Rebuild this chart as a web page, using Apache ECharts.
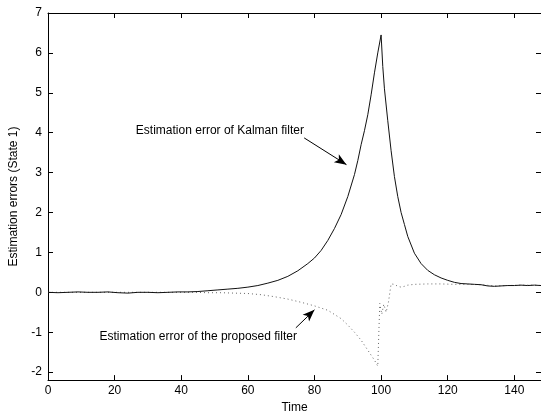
<!DOCTYPE html>
<html>
<head>
<meta charset="utf-8">
<script src="https://cdn.jsdelivr.net/npm/echarts@6/dist/echarts.min.js"></script>
<style>
  html, body { margin: 0; padding: 0; background: #fff; }
  #chart { width: 541px; height: 419px; }
</style>
</head>
<body>
<div id="chart"></div>
<script>
// tick labels
const xTicks = [0, 20, 40, 60, 80, 100, 120, 140];
const yTicks = [-2, -1, 0, 1, 2, 3, 4, 5, 6, 7];

// Kalman filter error (solid)
const kalmanT = [0, 3, 6, 9, 12, 15, 18, 21, 24, 27, 30, 33, 36, 39, 42, 45, 48, 51, 54, 57,
  60, 63, 66, 69, 72, 75, 78, 80, 82, 84, 86, 88, 90, 92, 93, 94, 95, 96, 97, 98, 99, 100,
  100.5, 101, 102, 103, 104, 105, 106, 107, 108, 110, 112, 114, 116, 118, 120, 122, 124,
  126, 128, 130, 132, 134, 136, 138, 140, 142, 144, 146, 148];
const kalmanV = [0, -0.01, 0, 0.01, 0, 0, 0.01, -0.01, -0.02, 0, 0, -0.01, 0, 0.01, 0.01, 0.02, 0.04, 0.06, 0.08, 0.1,
  0.13, 0.17, 0.23, 0.3, 0.4, 0.54, 0.72, 0.86, 1.05, 1.3, 1.6, 1.95, 2.4, 2.95, 3.3, 3.7, 4.05, 4.45, 4.95, 5.5, 6.0, 6.45,
  5.66, 5.1, 4.3, 3.55, 2.9, 2.4, 2.0, 1.7, 1.4, 0.98, 0.72, 0.55, 0.44, 0.36, 0.3, 0.25, 0.22,
  0.21, 0.2, 0.19, 0.16, 0.15, 0.16, 0.17, 0.17, 0.18, 0.17, 0.18, 0.17];

// proposed filter error (dotted)
const proposedT = [0, 5, 10, 15, 20, 25, 30, 35, 40, 44, 48, 52, 56, 60, 64, 68, 72, 76, 80, 84,
  88, 90, 92, 94, 96, 98, 99, 99.6, 100.2, 100.8, 101.5, 102.2, 103, 104, 105, 106, 107, 108,
  110, 114, 118, 122, 126, 130, 134, 138, 142, 146, 148];
const proposedV = [0, 0, 0, 0, 0, 0, 0, 0, 0, 0, -0.01, -0.01, -0.02, -0.03, -0.06, -0.11, -0.17, -0.25, -0.34, -0.45,
  -0.66, -0.82, -1.0, -1.2, -1.45, -1.7, -1.85, -0.28, -0.55, -0.3, -0.5, -0.25, 0.21, 0.2, 0.15, 0.13, 0.15, 0.18,
  0.2, 0.21, 0.21, 0.2, 0.2, 0.19, 0.16, 0.17, 0.18, 0.18, 0.17];

// annotation texts and arrows (data coordinates)
const kalmanNote = { text: 'Estimation error of Kalman filter', at: [51.6, 4.04], from: [76.9, 3.87], to: [89.6, 3.2] };
const proposedNote = { text: 'Estimation error of the proposed filter', at: [45.1, -1.11], from: [74.4, -0.89], to: [80.0, -0.44] };

const font = 'Liberation Sans, Arial, sans-serif';
const kalmanData = kalmanT.map((t, i) => [t, kalmanV[i]]);
const proposedData = proposedT.map((t, i) => [t, proposedV[i]]);

function noteMark(note) {
  return {
    coord: note.at,
    symbolSize: 0,
    label: { show: true, position: 'inside', formatter: note.text, color: '#000', fontSize: 12, fontFamily: font }
  };
}
function arrowMark(note) {
  return [{ coord: note.from }, { coord: note.to }];
}

const chart = echarts.init(document.getElementById('chart'), null, { renderer: 'canvas' });
const axisLine = { show: true, onZero: false, lineStyle: { color: '#000', width: 1 } };
const tickStyle = { show: true, inside: true, length: 5, lineStyle: { color: '#000' } };

chart.setOption({
  animation: false,
  backgroundColor: '#fff',
  grid: { left: 43, top: 13, right: 0, bottom: 32, containLabel: false },
  xAxis: [
    {
      type: 'value', min: 0, max: 148, position: 'bottom',
      name: 'Time', nameLocation: 'middle', nameGap: 17,
      nameTextStyle: { color: '#000', fontSize: 12, fontFamily: font },
      axisLine: axisLine,
      axisTick: Object.assign({ customValues: xTicks }, tickStyle),
      axisLabel: { customValues: xTicks, color: '#000', fontSize: 12, fontFamily: font, margin: 5 },
      splitLine: { show: false }
    },
    {
      type: 'value', min: 0, max: 148, position: 'top',
      axisLine: axisLine,
      axisTick: Object.assign({ customValues: xTicks }, tickStyle),
      axisLabel: { show: false },
      splitLine: { show: false }
    }
  ],
  yAxis: [
    {
      type: 'value', min: -2.2, max: 7, position: 'left',
      name: 'Estimation errors (State 1)', nameLocation: 'middle', nameGap: 28,
      nameTextStyle: { color: '#000', fontSize: 12, fontFamily: font },
      axisLine: axisLine,
      axisTick: Object.assign({ customValues: yTicks }, tickStyle),
      axisLabel: { customValues: yTicks, color: '#000', fontSize: 12, fontFamily: font, margin: 6 },
      splitLine: { show: false }
    },
    {
      type: 'value', min: -2.2, max: 7, position: 'right',
      axisLine: { show: false, onZero: false },
      axisTick: Object.assign({ customValues: yTicks }, tickStyle),
      axisLabel: { show: false },
      splitLine: { show: false }
    }
  ],
  series: [
    {
      name: 'proposed',
      type: 'line',
      data: proposedData,
      showSymbol: false,
      lineStyle: { color: '#666', width: 1, type: [1, 3] },
      markPoint: { silent: true, data: [noteMark(proposedNote)] },
      markLine: {
        silent: true, symbol: ['none', 'arrow'], symbolSize: [7, 12],
        label: { show: false },
        lineStyle: { color: '#000', width: 1, type: 'solid' },
        data: [arrowMark(proposedNote)]
      }
    },
    {
      name: 'kalman',
      type: 'line',
      data: kalmanData,
      showSymbol: false,
      lineStyle: { color: '#111', width: 1 },
      markPoint: { silent: true, data: [noteMark(kalmanNote)] },
      markLine: {
        silent: true, symbol: ['none', 'arrow'], symbolSize: [7, 12],
        label: { show: false },
        lineStyle: { color: '#000', width: 1, type: 'solid' },
        data: [arrowMark(kalmanNote)]
      }
    }
  ]
});
</script>
</body>
</html>
